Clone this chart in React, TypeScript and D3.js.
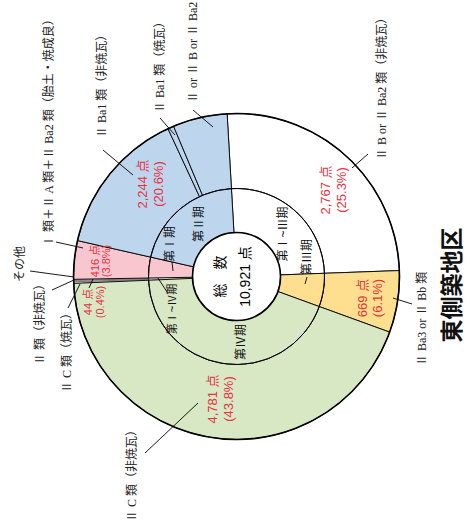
import * as d3 from 'd3'

// outer ring, one entry per type
const sliceNames = [
  'Ⅱ B or Ⅱ Ba2 類（非焼瓦）',
  'Ⅱ Ba3 or Ⅱ Bb 類',
  'Ⅱ C 類（非焼瓦）',
  'Ⅱ C 類（焼瓦）',
  'Ⅱ 類（非焼瓦）',
  'その他',
  'Ⅰ 類＋Ⅱ A 類＋Ⅱ Ba2 類（胎土・焼成良）',
  'Ⅱ Ba1 類（非焼瓦）',
  'Ⅱ Ba1 類（焼瓦）',
  'Ⅱ or Ⅱ B or Ⅱ Ba2 類（焼瓦）',
]
const sliceValues = [2767, 669, 4781, 18, 14, 12, 416, 1590, 65, 589]
const sliceGroup = [0, 1, 2, 3, 3, 3, 4, 5, 5, 5]

// inner ring, one entry per period group
const periodNames = ['第Ⅰ~Ⅲ期', '第Ⅲ期', '第Ⅳ期', '第Ⅰ~Ⅳ期', '第Ⅰ期', '第Ⅱ期']
const groupValues = [2767, 669, 4781, 44, 416, 2244]
const groupPercents = ['(25.3%)', '(6.1%)', '(43.8%)', '(0.4%)', '(3.8%)', '(20.6%)']
const groupColors = ['#ffffff', '#fddf8f', '#d8e7c4', '#ffffff', '#f7c6ce', '#bdd6ee']
const total = 10921

const serif = "'Liberation Serif', 'Noto Sans CJK JP', serif"
const sans = "'Liberation Sans', 'Noto Sans CJK JP', sans-serif"
const red = '#e5323e'

// annotation layout (rotated frame: x along reading direction)
const valuePos = [[340, 333, 16, 13], [232, 370, 15, 13], [131, 220, 16, 13], [228, 94, 12, 11], [269, 100, 11, 11], [346, 150, 16, 13]]
const namePos = [[370, 382], [164, 422], [8, 132], [137, 67], [165, 40], [248, 20], [283, 49], [392, 102], [417, 160], [427, 193]]
const nameLeaders = [
  [362, 352, 376, 368], [232, 393, 226, 412], [127, 198, 77, 145], [246, 80, 222, 68], [250, 74, 240, 52],
  [253, 74, 259, 30], [282, 83, 288, 56], [355, 133, 380, 103], [395, 175, 412, 160], [403, 213, 420, 193],
]
const periodPos = [[296, 283, 12], [273, 307, 12], [188, 241, 12], [221, 172, 11], [286, 170, 12], [306, 199, 12]]
const periodLeaders = [[253, 307, 246, 305], [252, 158, 238, 167], [268, 172, 259, 173], [242, 89, 251, 93]]

export default function App() {
  const cx = 253.5
  const cy = 236.5
  const rIn = 44
  const rMid = 88
  const rOut = 163
  const start = (86.7 * Math.PI) / 180

  const pie = d3.pie<number>().sort(null).value(d => d).startAngle(start).endAngle(start + 2 * Math.PI)
  const outer = pie(sliceValues).map((d, i) => ({ d, i, g: sliceGroup[i] }))
  const inner = pie(groupValues).map((d, i) => ({ d, i, g: i }))
  const arcOut = d3.arc<d3.PieArcDatum<number>>().innerRadius(rMid).outerRadius(rOut)
  const arcIn = d3.arc<d3.PieArcDatum<number>>().innerRadius(rIn).outerRadius(rMid)

  // "other" slices first so black edges sit on top
  const order = (a: { g: number }, b: { g: number }) => (b.g === 3 ? 1 : 0) - (a.g === 3 ? 1 : 0)

  return (
    <div style={{ position: 'fixed', left: 0, top: 0 }}>
      <svg width={470} height={530} style={{ display: 'block', background: '#fff' }}>
        <g transform="translate(0,530) rotate(-90)">
          <g transform={`translate(${cx},${cy})`}>
            {[...outer].sort(order).map(({ d, i, g }) => (
              <path key={'o' + i} d={arcOut(d) || ''} fill={groupColors[g]}
                stroke={g === 3 ? '#7a7a7a' : '#000'} strokeWidth={g === 3 ? 1 : 0.9} />
            ))}
            {[...inner].sort(order).map(({ d, i, g }) => (
              <path key={'i' + i} d={arcIn(d) || ''} fill={groupColors[g]}
                stroke={g === 3 ? '#7a7a7a' : '#000'} strokeWidth={g === 3 ? 1 : 0.9} />
            ))}
            <circle r={rMid} fill="none" stroke="#000" strokeWidth={0.8} />
            <circle r={rOut} fill="none" stroke="#000" strokeWidth={1.6} />
            <circle r={rIn} fill="#fff" stroke="#000" strokeWidth={1.6} />
          </g>

          {nameLeaders.concat(periodLeaders).map((l, i) => (
            <line key={'l' + i} x1={l[0]} y1={l[1]} x2={l[2]} y2={l[3]} stroke="#000" strokeWidth={0.9} />
          ))}

          {sliceNames.map((s, i) => (
            <text key={'n' + i} x={namePos[i][0]} y={namePos[i][1]} dominantBaseline="central"
              fontFamily={serif} fontSize={12} fill="#222">{s}</text>
          ))}

          {groupValues.map((v, i) => {
            const [x, y, gap, fs] = valuePos[i]
            return (
              <g key={'v' + i} fill={red} fontFamily={sans} fontSize={fs} textAnchor="middle">
                <text x={x} y={y - gap / 2} dominantBaseline="central">{d3.format(',')(v)} 点</text>
                <text x={x} y={y + gap / 2} dominantBaseline="central">{groupPercents[i]}</text>
              </g>
            )
          })}

          {periodNames.map((p, i) => (
            <text key={'p' + i} x={periodPos[i][0]} y={periodPos[i][1]} dominantBaseline="central"
              textAnchor="middle" fontFamily={sans} fontSize={periodPos[i][2]} fill="#111">{p}</text>
          ))}

          <text x={cx} y={cy - 16} dominantBaseline="central" textAnchor="middle" fontFamily={serif} fontSize={14}>総　数</text>
          <text x={cx} y={cy + 8} dominantBaseline="central" textAnchor="middle" fontFamily={sans} fontSize={14}>
            {d3.format(',')(total)} 点
          </text>

          <text x={245} y={452} dominantBaseline="central" textAnchor="middle" fontFamily={sans}
            fontSize={23} fontWeight={700} fill="#111">東側築地区</text>
        </g>
      </svg>
    </div>
  )
}
